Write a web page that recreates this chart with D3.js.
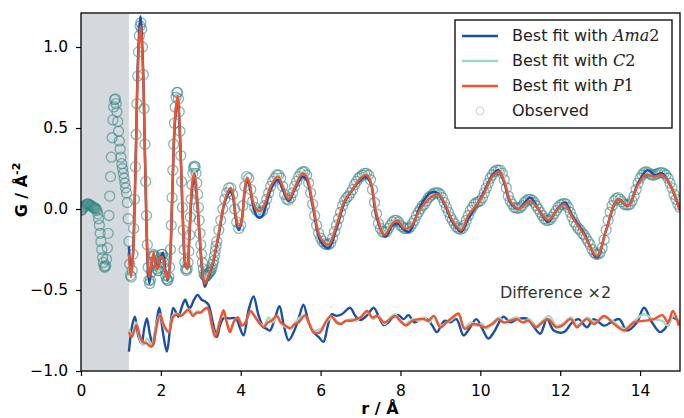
<!DOCTYPE html>
<html>
<head>
<meta charset="utf-8">
<script src="https://d3js.org/d3.v7.min.js"></script>
<style>
  body { margin: 0; background: #fff; }
  text { font-family: "DejaVu Sans", sans-serif; }
</style>
</head>
<body>
<svg class="target" width="684" height="418"></svg>
<script>

// ---- data ----
// observed G(r): 0 .. 3.40 step 0.02, then 3.45 .. 15 step 0.05
const obsFine = [
  -0.01, -0.005, 0.00, 0.01, 0.015, 0.02, 0.025, 0.03, 0.03, 0.03,
  0.03, 0.025, 0.02, 0.02, 0.015, 0.01, 0.01, 0.005, 0.005, 0.0,
  -0.01, -0.03, -0.06, -0.10, -0.15, -0.20, -0.25, -0.30, -0.33, -0.355,
  -0.36, -0.35, -0.31, -0.24, -0.15, -0.04, 0.08, 0.20, 0.32, 0.44,
  0.55, 0.63, 0.675, 0.68, 0.65, 0.60, 0.54, 0.48, 0.42, 0.37,
  0.32, 0.28, 0.25, 0.22, 0.19, 0.16, 0.13, 0.10, 0.04, -0.06,
  -0.20, -0.34, -0.41, -0.42, -0.38, -0.28, -0.12, 0.06, 0.26, 0.46,
  0.65, 0.82, 0.97, 1.07, 1.13, 1.15, 1.11, 1.00, 0.83, 0.62,
  0.40, 0.17, -0.04, -0.22, -0.36, -0.44, -0.46, -0.44, -0.39, -0.33,
  -0.29, -0.28, -0.29, -0.32, -0.35, -0.37, -0.38, -0.38, -0.36, -0.33,
  -0.30, -0.28, -0.28, -0.30, -0.33, -0.37, -0.41, -0.43, -0.44, -0.44,
  -0.42, -0.36, -0.25, -0.10, 0.07, 0.24, 0.40, 0.53, 0.63, 0.69,
  0.72, 0.72, 0.68, 0.60, 0.48, 0.33, 0.17, 0.01, -0.13, -0.25,
  -0.33, -0.37, -0.38, -0.37, -0.33, -0.26, -0.16, -0.05, 0.06, 0.15,
  0.22, 0.255, 0.265, 0.26, 0.22, 0.16, 0.09, 0.01, -0.07, -0.15,
  -0.22, -0.28, -0.33, -0.37, -0.40, -0.41, -0.415, -0.415, -0.41, -0.40,
  -0.395, -0.39, -0.385, -0.375, -0.36, -0.34, -0.32, -0.29, -0.26, -0.23,
  -0.20
]
const obsCoarse = [
  -0.13, -0.07, 0.00, 0.06, 0.10, 0.13, 0.13, 0.09, 0.00, -0.08,
  -0.12, -0.10, 0.02, 0.14, 0.20, 0.19, 0.12, 0.05, 0.01, -0.01,
  -0.02, -0.02, -0.01, 0.02, 0.06, 0.10, 0.14, 0.17, 0.19, 0.21,
  0.21, 0.19, 0.14, 0.09, 0.06, 0.055, 0.07, 0.10, 0.14, 0.17,
  0.20, 0.22, 0.23, 0.23, 0.21, 0.16, 0.10, 0.03, -0.04, -0.10,
  -0.15, -0.18, -0.20, -0.215, -0.22, -0.22, -0.21, -0.18, -0.14, -0.10,
  -0.06, -0.02, 0.02, 0.05, 0.07, 0.08, 0.10, 0.12, 0.15, 0.17,
  0.19, 0.20, 0.21, 0.22, 0.22, 0.21, 0.18, 0.12, 0.04, -0.03,
  -0.09, -0.12, -0.14, -0.145, -0.14, -0.12, -0.10, -0.08, -0.07, -0.07,
  -0.08, -0.10, -0.11, -0.12, -0.12, -0.12, -0.11, -0.09, -0.07, -0.04,
  -0.02, 0.00, 0.02, 0.03, 0.05, 0.07, 0.08, 0.09, 0.10, 0.10,
  0.10, 0.09, 0.07, 0.04, 0.01, -0.02, -0.05, -0.07, -0.09, -0.11,
  -0.12, -0.125, -0.12, -0.10, -0.07, -0.04, -0.01, 0.01, 0.03, 0.04,
  0.045, 0.05, 0.07, 0.10, 0.13, 0.16, 0.19, 0.21, 0.23, 0.24,
  0.24, 0.24, 0.22, 0.18, 0.13, 0.08, 0.05, 0.03, 0.01, 0.005,
  0.005, 0.01, 0.02, 0.04, 0.05, 0.06, 0.06, 0.055, 0.04, 0.02,
  0.00, -0.02, -0.04, -0.06, -0.07, -0.07, -0.065, -0.05, -0.03, -0.01,
  0.01, 0.025, 0.03, 0.035, 0.03, 0.01, -0.02, -0.05, -0.08, -0.10,
  -0.12, -0.13, -0.15, -0.16, -0.18, -0.20, -0.22, -0.25, -0.27, -0.28,
  -0.28, -0.27, -0.24, -0.19, -0.13, -0.07, -0.02, 0.02, 0.05, 0.065,
  0.07, 0.06, 0.045, 0.03, 0.025, 0.025, 0.03, 0.05, 0.08, 0.12,
  0.16, 0.19, 0.21, 0.225, 0.23, 0.225, 0.215, 0.21, 0.21, 0.215,
  0.22, 0.225, 0.225, 0.22, 0.21, 0.19, 0.16, 0.13, 0.09, 0.06,
  0.03, 0.01
]

// best fits, [r, G] knots
const fitAma2 = [[1.20,-0.23],[1.25,-0.40],[1.30,-0.28],[1.37,0.32],[1.43,0.95],[1.49,1.19],[1.55,0.90],[1.61,0.22],[1.67,-0.35],[1.71,-0.46],[1.76,-0.36],[1.82,-0.28],[1.88,-0.34],[1.93,-0.36],[1.99,-0.30],[2.05,-0.27],[2.11,-0.37],[2.17,-0.44],[2.22,-0.36],[2.28,0.03],[2.35,0.52],[2.42,0.68],[2.48,0.43],[2.55,-0.07],[2.61,-0.34],[2.66,-0.37],[2.72,-0.14],[2.79,0.14],[2.84,0.19],[2.89,0.10],[2.96,-0.14],[3.03,-0.37],[3.10,-0.48],[3.18,-0.43],[3.30,-0.34],[3.45,-0.16],[3.60,0.04],[3.74,0.11],[3.80,0.08],[3.87,-0.05],[3.95,-0.13],[4.02,-0.08],[4.10,0.11],[4.16,0.18],[4.22,0.14],[4.32,0.01],[4.42,-0.05],[4.52,-0.05],[4.62,0.01],[4.77,0.13],[4.93,0.18],[5.05,0.12],[5.20,0.05],[5.35,0.12],[5.55,0.20],[5.65,0.18],[5.80,0.02],[6.00,-0.20],[6.20,-0.24],[6.40,-0.12],[6.60,0.04],[6.80,0.12],[7.00,0.18],[7.12,0.20],[7.25,0.16],[7.40,-0.05],[7.62,-0.17],[7.80,-0.10],[7.92,-0.09],[8.10,-0.13],[8.22,-0.14],[8.50,0.02],[8.75,0.10],[8.92,0.10],[9.10,0.03],[9.30,-0.08],[9.52,-0.14],[9.70,-0.06],[9.95,0.04],[10.10,0.11],[10.30,0.21],[10.45,0.24],[10.60,0.16],[10.75,0.04],[10.95,0.00],[11.25,0.07],[11.45,0.00],[11.70,-0.08],[11.90,-0.01],[12.12,0.04],[12.30,-0.04],[12.60,-0.15],[12.92,-0.30],[13.15,-0.13],[13.45,0.06],[13.70,0.02],[13.95,0.16],[14.18,0.24],[14.38,0.21],[14.55,0.22],[14.75,0.15],[15.00,-0.01]]
const fitC2 = [[1.20,-0.22],[1.25,-0.42],[1.30,-0.30],[1.37,0.30],[1.43,0.92],[1.49,1.14],[1.55,0.88],[1.61,0.25],[1.67,-0.32],[1.71,-0.44],[1.76,-0.36],[1.82,-0.28],[1.88,-0.35],[1.93,-0.38],[1.99,-0.31],[2.04,-0.28],[2.10,-0.37],[2.17,-0.44],[2.22,-0.37],[2.28,0.06],[2.35,0.56],[2.42,0.71],[2.48,0.46],[2.55,-0.04],[2.61,-0.33],[2.66,-0.37],[2.72,-0.13],[2.79,0.17],[2.84,0.24],[2.89,0.14],[2.96,-0.10],[3.03,-0.33],[3.10,-0.43],[3.20,-0.40],[3.30,-0.34],[3.45,-0.14],[3.60,0.05],[3.74,0.13],[3.80,0.10],[3.87,-0.03],[3.95,-0.12],[4.02,-0.08],[4.10,0.13],[4.16,0.20],[4.22,0.16],[4.30,0.05],[4.42,-0.01],[4.52,-0.02],[4.62,0.03],[4.77,0.15],[4.94,0.21],[5.05,0.14],[5.20,0.055],[5.35,0.14],[5.57,0.23],[5.65,0.21],[5.80,0.03],[6.00,-0.18],[6.17,-0.22],[6.40,-0.10],[6.62,0.06],[6.80,0.12],[7.00,0.20],[7.14,0.22],[7.25,0.18],[7.40,-0.03],[7.60,-0.145],[7.80,-0.08],[7.90,-0.07],[8.10,-0.12],[8.22,-0.12],[8.50,0.00],[8.80,0.09],[8.93,0.10],[9.10,0.04],[9.30,-0.07],[9.50,-0.125],[9.70,-0.04],[9.95,0.045],[10.10,0.10],[10.30,0.21],[10.46,0.24],[10.60,0.18],[10.75,0.05],[10.95,0.005],[11.25,0.06],[11.45,0.00],[11.70,-0.07],[11.90,-0.01],[12.10,0.035],[12.30,-0.05],[12.60,-0.16],[12.93,-0.28],[13.15,-0.13],[13.45,0.07],[13.70,0.025],[13.95,0.16],[14.15,0.23],[14.32,0.21],[14.52,0.225],[14.75,0.16],[15.00,0.01]]
const fitP1 = [[1.20,-0.28],[1.25,-0.42],[1.30,-0.30],[1.37,0.30],[1.43,0.90],[1.49,1.13],[1.55,0.88],[1.61,0.25],[1.67,-0.30],[1.71,-0.42],[1.76,-0.35],[1.82,-0.27],[1.88,-0.36],[1.92,-0.37],[1.98,-0.30],[2.04,-0.30],[2.10,-0.38],[2.17,-0.43],[2.22,-0.36],[2.28,0.05],[2.35,0.55],[2.42,0.70],[2.48,0.45],[2.55,-0.05],[2.61,-0.33],[2.66,-0.37],[2.72,-0.12],[2.79,0.17],[2.84,0.22],[2.89,0.12],[2.96,-0.12],[3.03,-0.35],[3.10,-0.46],[3.18,-0.42],[3.30,-0.33],[3.45,-0.15],[3.60,0.05],[3.74,0.13],[3.80,0.10],[3.87,-0.03],[3.95,-0.11],[4.02,-0.07],[4.10,0.12],[4.16,0.19],[4.22,0.16],[4.30,0.05],[4.40,-0.005],[4.50,-0.01],[4.60,0.03],[4.75,0.14],[4.93,0.20],[5.05,0.14],[5.20,0.06],[5.35,0.13],[5.55,0.22],[5.65,0.20],[5.80,0.04],[6.00,-0.18],[6.20,-0.22],[6.40,-0.10],[6.60,0.05],[6.80,0.12],[7.00,0.19],[7.15,0.21],[7.25,0.17],[7.40,-0.03],[7.60,-0.16],[7.80,-0.09],[7.92,-0.07],[8.10,-0.12],[8.25,-0.11],[8.50,0.00],[8.80,0.08],[8.95,0.09],[9.10,0.04],[9.30,-0.07],[9.52,-0.13],[9.70,-0.04],[9.95,0.04],[10.10,0.10],[10.30,0.20],[10.47,0.23],[10.60,0.17],[10.75,0.05],[10.95,0.00],[11.25,0.05],[11.45,0.00],[11.70,-0.07],[11.90,-0.01],[12.10,0.03],[12.30,-0.05],[12.60,-0.16],[12.92,-0.29],[13.15,-0.13],[13.45,0.06],[13.70,0.02],[13.95,0.15],[14.15,0.21],[14.35,0.20],[14.55,0.21],[14.75,0.15],[15.00,-0.01]]

// difference x2 curves (already offset to about -0.7)
const diffAma2 = [[1.20,-0.88],[1.28,-0.72],[1.35,-0.665],[1.44,-0.79],[1.52,-0.83],[1.58,-0.74],[1.65,-0.675],[1.73,-0.78],[1.81,-0.84],[1.89,-0.70],[1.96,-0.61],[2.05,-0.76],[2.15,-0.88],[2.23,-0.74],[2.31,-0.61],[2.38,-0.64],[2.44,-0.665],[2.53,-0.60],[2.61,-0.56],[2.68,-0.60],[2.73,-0.61],[2.83,-0.56],[2.92,-0.53],[3.02,-0.56],[3.10,-0.57],[3.19,-0.59],[3.30,-0.70],[3.40,-0.79],[3.48,-0.72],[3.57,-0.675],[3.72,-0.675],[3.88,-0.675],[3.96,-0.72],[4.07,-0.78],[4.20,-0.62],[4.32,-0.54],[4.45,-0.66],[4.57,-0.73],[4.65,-0.74],[4.73,-0.75],[4.85,-0.68],[4.97,-0.60],[5.08,-0.72],[5.20,-0.81],[5.36,-0.74],[5.47,-0.66],[5.57,-0.59],[5.70,-0.70],[5.82,-0.76],[5.95,-0.79],[6.07,-0.82],[6.18,-0.72],[6.28,-0.65],[6.40,-0.66],[6.53,-0.65],[6.74,-0.61],[6.87,-0.66],[6.99,-0.685],[7.15,-0.66],[7.33,-0.61],[7.45,-0.66],[7.58,-0.716],[7.70,-0.70],[7.80,-0.67],[7.95,-0.655],[8.08,-0.68],[8.20,-0.655],[8.35,-0.70],[8.50,-0.68],[8.67,-0.68],[8.80,-0.72],[8.91,-0.76],[9.10,-0.69],[9.25,-0.70],[9.40,-0.68],[9.58,-0.78],[9.72,-0.74],[9.90,-0.68],[10.05,-0.74],[10.20,-0.80],[10.34,-0.76],[10.58,-0.665],[10.75,-0.70],[10.92,-0.68],[11.20,-0.68],[11.32,-0.72],[11.50,-0.77],[11.67,-0.68],[11.84,-0.75],[12.09,-0.76],[12.30,-0.70],[12.46,-0.68],[12.67,-0.73],[12.84,-0.68],[13.10,-0.72],[13.27,-0.70],[13.48,-0.68],[13.67,-0.75],[13.92,-0.70],[14.10,-0.61],[14.30,-0.70],[14.50,-0.76],[14.62,-0.74],[14.80,-0.67],[15.00,-0.70]]
const diffC2 = [[1.20,-0.74],[1.28,-0.78],[1.38,-0.70],[1.47,-0.80],[1.56,-0.84],[1.66,-0.80],[1.76,-0.84],[1.88,-0.72],[1.98,-0.65],[2.08,-0.73],[2.20,-0.76],[2.30,-0.66],[2.42,-0.645],[2.52,-0.66],[2.62,-0.63],[2.72,-0.62],[2.82,-0.65],[2.92,-0.63],[3.02,-0.64],[3.10,-0.62],[3.18,-0.62],[3.28,-0.72],[3.37,-0.78],[3.48,-0.69],[3.57,-0.64],[3.66,-0.71],[3.74,-0.75],[3.84,-0.69],[3.94,-0.67],[4.05,-0.72],[4.14,-0.69],[4.25,-0.64],[4.42,-0.69],[4.58,-0.72],[4.70,-0.67],[4.80,-0.70],[4.92,-0.66],[5.02,-0.71],[5.14,-0.73],[5.25,-0.74],[5.37,-0.70],[5.48,-0.67],[5.60,-0.665],[5.73,-0.72],[5.84,-0.75],[6.00,-0.74],[6.14,-0.70],[6.27,-0.67],[6.40,-0.69],[6.52,-0.71],[6.64,-0.69],[6.77,-0.68],[6.90,-0.69],[7.02,-0.66],[7.17,-0.64],[7.32,-0.68],[7.45,-0.66],[7.60,-0.71],[7.74,-0.67],[7.86,-0.65],[8.00,-0.70],[8.13,-0.71],[8.30,-0.68],[8.45,-0.69],[8.60,-0.67],[8.72,-0.70],[8.84,-0.66],[9.00,-0.72],[9.16,-0.70],[9.30,-0.68],[9.45,-0.65],[9.60,-0.73],[9.78,-0.70],[9.90,-0.72],[10.05,-0.71],[10.15,-0.74],[10.32,-0.70],[10.47,-0.67],[10.60,-0.70],[10.77,-0.68],[10.92,-0.67],[11.07,-0.70],[11.22,-0.68],[11.40,-0.72],[11.56,-0.69],[11.72,-0.66],[11.90,-0.72],[12.06,-0.71],[12.27,-0.67],[12.43,-0.72],[12.57,-0.69],[12.69,-0.67],[12.86,-0.70],[13.10,-0.67],[13.30,-0.69],[13.46,-0.72],[13.62,-0.74],[13.86,-0.69],[14.10,-0.65],[14.33,-0.68],[14.55,-0.69],[14.70,-0.72],[14.83,-0.66],[14.98,-0.70]]
const diffP1 = [[1.20,-0.76],[1.27,-0.79],[1.39,-0.715],[1.47,-0.78],[1.55,-0.82],[1.65,-0.83],[1.77,-0.85],[1.88,-0.74],[1.98,-0.655],[2.08,-0.72],[2.20,-0.76],[2.30,-0.67],[2.40,-0.65],[2.50,-0.66],[2.60,-0.64],[2.69,-0.62],[2.80,-0.66],[2.90,-0.64],[2.99,-0.64],[3.08,-0.62],[3.17,-0.61],[3.27,-0.71],[3.36,-0.79],[3.47,-0.70],[3.57,-0.625],[3.65,-0.70],[3.73,-0.76],[3.82,-0.70],[3.92,-0.67],[4.03,-0.72],[4.12,-0.70],[4.24,-0.63],[4.40,-0.68],[4.57,-0.73],[4.68,-0.70],[4.77,-0.69],[4.90,-0.66],[5.00,-0.70],[5.12,-0.72],[5.24,-0.735],[5.35,-0.71],[5.45,-0.70],[5.61,-0.655],[5.72,-0.71],[5.82,-0.76],[5.99,-0.76],[6.12,-0.70],[6.26,-0.66],[6.40,-0.70],[6.51,-0.71],[6.62,-0.69],[6.76,-0.69],[6.88,-0.68],[7.00,-0.67],[7.16,-0.63],[7.30,-0.67],[7.40,-0.66],[7.50,-0.68],[7.60,-0.70],[7.74,-0.68],[7.86,-0.66],[8.00,-0.69],[8.13,-0.72],[8.30,-0.69],[8.45,-0.68],[8.58,-0.68],[8.70,-0.69],[8.83,-0.66],[9.00,-0.73],[9.15,-0.70],[9.30,-0.67],[9.45,-0.645],[9.60,-0.74],[9.75,-0.72],[9.85,-0.71],[10.00,-0.72],[10.10,-0.73],[10.30,-0.71],[10.45,-0.68],[10.58,-0.70],[10.75,-0.69],[10.92,-0.68],[11.05,-0.70],[11.20,-0.69],[11.40,-0.73],[11.55,-0.70],[11.70,-0.68],[11.90,-0.73],[12.05,-0.72],[12.26,-0.68],[12.42,-0.73],[12.55,-0.70],[12.67,-0.68],[12.85,-0.71],[13.10,-0.66],[13.30,-0.70],[13.45,-0.73],[13.60,-0.75],[13.85,-0.70],[14.10,-0.69],[14.35,-0.68],[14.56,-0.655],[14.70,-0.70],[14.82,-0.63],[14.97,-0.72]]

const xTicks = [0, 2, 4, 6, 8, 10, 12, 14]
const yTicks = [-1.0, -0.5, 0.0, 0.5, 1.0]
const excludedR = 1.2   // grey band, r < 1.2 A not fitted

const colAma2 = '#1a4fa5', colC2 = '#a2d8c6', colP1 = '#ef5330', colObs = '#3a8686'

// ---- layout ----
const width = 684, height = 418
const margin = { top: 13, right: 4, bottom: 47, left: 81 }

const svg = d3.select('.target')

const x = d3.scaleLinear([0, 15], [margin.left, width - margin.right])
const y = d3.scaleLinear([-1.0, 1.21], [height - margin.bottom, margin.top])

const obs = obsFine.map((g, i) => [i * 0.02, g])
  .concat(obsCoarse.map((g, i) => [3.45 + i * 0.05, g]))

svg.append('clipPath').attr('id', 'plot')
  .append('rect')
    .attr('x', x(0)).attr('y', y(1.21))
    .attr('width', x(15) - x(0)).attr('height', y(-1) - y(1.21))

const plot = svg.append('g').attr('clip-path', 'url(#plot)')

plot.append('rect')
  .attr('x', x(0)).attr('y', y(1.21))
  .attr('width', x(excludedR) - x(0))
  .attr('height', y(-1) - y(1.21))
  .attr('fill', '#d3d9dd')

// observed circles
plot.append('g')
  .selectAll('circle')
  .data(obs)
  .join('circle')
    .attr('cx', d => x(d[0]))
    .attr('cy', d => y(d[1]))
    .attr('r', 5)
    .attr('fill', 'none')
    .attr('stroke', colObs)
    .attr('stroke-opacity', 0.6)
    .attr('stroke-width', 1.3)

const line = d3.line()
  .x(d => x(d[0]))
  .y(d => y(d[1]))
  .curve(d3.curveCatmullRom.alpha(0.5))

const series = [
  [fitC2, colC2], [fitAma2, colAma2], [fitP1, colP1],
  [diffC2, colC2], [diffAma2, colAma2], [diffP1, colP1]
]
// draw diff in order Ama2, C2, P1 so orange ends on top
const order = [0, 1, 2, 4, 3, 5]
order.forEach(i => {
  plot.append('path')
    .attr('d', line(series[i][0]))
    .attr('fill', 'none')
    .attr('stroke', series[i][1])
    .attr('stroke-width', 2.4)
    .attr('stroke-linejoin', 'round')
})

// axes
const xAxis = d3.axisBottom(x).tickValues(xTicks).tickFormat(d3.format('d'))
  .tickSize(5).tickPadding(9)
const yAxis = d3.axisLeft(y).tickValues(yTicks).tickFormat(d3.format('.1f'))
  .tickSize(5).tickPadding(8)

const gx = svg.append('g')
  .attr('transform', `translate(0,${ height - margin.bottom })`)
  .call(xAxis)
const gy = svg.append('g')
  .attr('transform', `translate(${ margin.left },0)`)
  .call(yAxis)

;[gx, gy].forEach(g => {
  g.select('.domain').remove()
  g.selectAll('line').attr('stroke', '#000').attr('stroke-width', 1.2)
  g.selectAll('text').attr('font-size', 15.5).attr('fill', '#000')
    .attr('font-family', '"DejaVu Sans", sans-serif')
})

svg.append('rect')
  .attr('x', x(0)).attr('y', y(1.21))
  .attr('width', x(15) - x(0)).attr('height', y(-1) - y(1.21))
  .attr('fill', 'none').attr('stroke', '#000').attr('stroke-width', 1.3)

// axis labels
const yl = svg.append('text')
  .attr('transform', 'translate(27,190) rotate(-90)')
  .attr('text-anchor', 'middle')
  .attr('font-size', 16).attr('font-weight', 'bold')
yl.append('tspan').text('G / Å')
yl.append('tspan').attr('font-size', 11).attr('dy', -7).text('-2')

svg.append('text')
  .attr('x', 380).attr('y', 414)
  .attr('text-anchor', 'middle')
  .attr('font-size', 16).attr('font-weight', 'bold')
  .text('r / Å')

svg.append('text')
  .attr('x', 500).attr('y', 298)
  .attr('font-size', 16).attr('fill', '#333')
  .text('Difference ×2')

// legend
const lg = svg.append('g')
lg.append('rect')
  .attr('x', 455).attr('y', 20).attr('width', 217).attr('height', 108)
  .attr('fill', '#fff').attr('stroke', '#000').attr('stroke-width', 1.3)

const legendItems = [
  { name: 'Ama', sub: '2', color: colAma2 },
  { name: 'C', sub: '2', color: colC2 },
  { name: 'P', sub: '1', color: colP1 }
]
legendItems.forEach((d, i) => {
  const by = 41 + i * 25
  lg.append('line')
    .attr('x1', 462).attr('x2', 498).attr('y1', by - 5).attr('y2', by - 5)
    .attr('stroke', d.color).attr('stroke-width', 2.4)
  const t = lg.append('text').attr('x', 512).attr('y', by)
    .attr('font-size', 16).attr('fill', '#222')
  t.append('tspan').text('Best fit with ')
  t.append('tspan').attr('font-family', '"DejaVu Serif", serif')
    .attr('font-style', 'italic').text(d.name)
  t.append('tspan').attr('font-family', '"DejaVu Serif", serif').text(d.sub)
})
lg.append('circle')
  .attr('cx', 480).attr('cy', 111).attr('r', 4)
  .attr('fill', 'none').attr('stroke', colObs)
  .attr('stroke-opacity', 0.4).attr('stroke-width', 0.9)
lg.append('text').attr('x', 512).attr('y', 116)
  .attr('font-size', 16).attr('fill', '#222')
  .text('Observed')

</script>
</body>
</html>
